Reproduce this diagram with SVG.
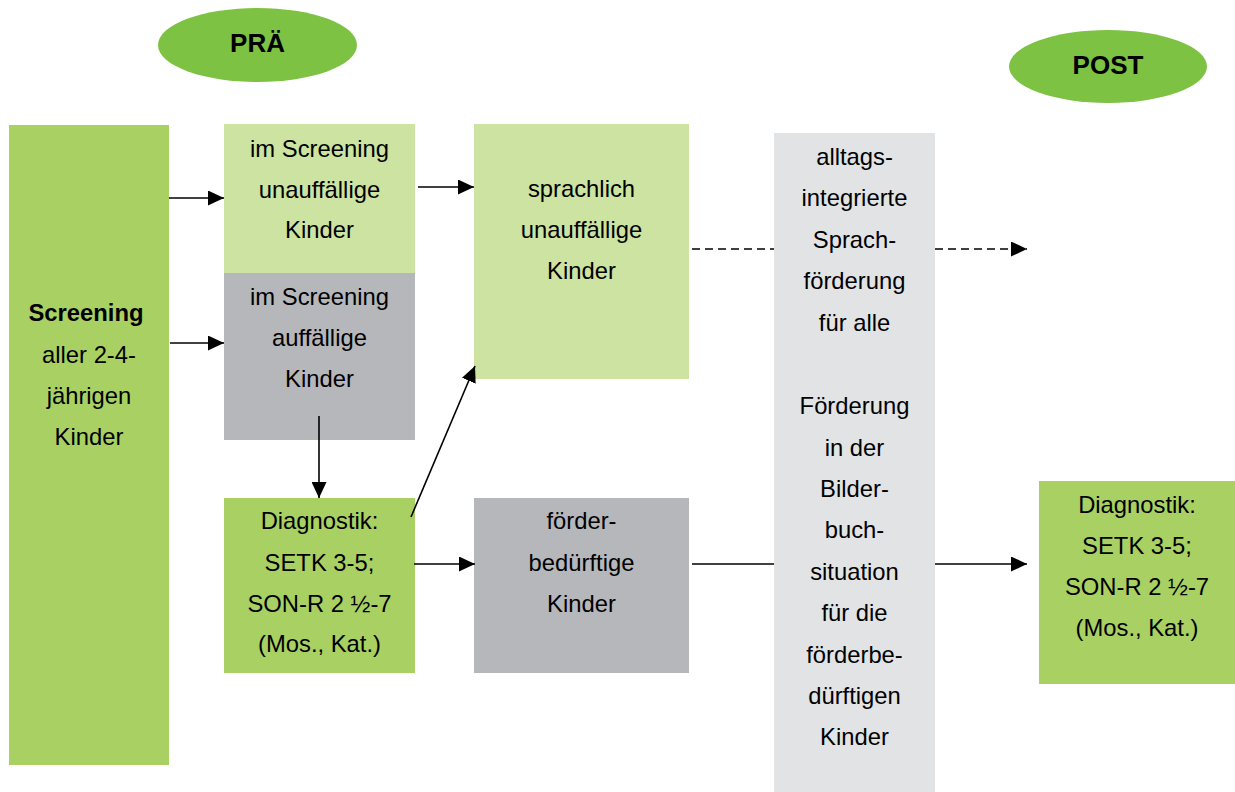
<svg xmlns="http://www.w3.org/2000/svg" width="1235" height="792" viewBox="0 0 1235 792">
  <style>
    .t { font-family: "Liberation Sans", Arial, sans-serif; font-size: 23.8px; fill: #000; text-anchor: middle; }
    .h { font-family: "Liberation Sans", Arial, sans-serif; font-size: 26px; font-weight: bold; fill: #000; text-anchor: middle; }
    .b { font-weight: bold; }
    .oval { fill: #7dc243; }
    .green { fill: #a9d063; }
    .light { fill: #cce3a2; }
    .grey { fill: #b6b7bb; }
    .pale { fill: #e2e3e5; }
    .edge { stroke: #000; stroke-width: 1.6; fill: none; }
    .arrow { marker-end: url(#head); }
    .dash { stroke-dasharray: 8 5; }
  </style>
  <defs>
    <marker id="head" markerUnits="userSpaceOnUse" markerWidth="16" markerHeight="15" refX="16" refY="7.5" orient="auto">
      <path d="M0,0 L16,7.5 L0,15 Z" fill="#000"/>
    </marker>
  </defs>

  <rect width="1235" height="792" fill="#fff"/>

  <g id="pre">
    <ellipse class="oval" cx="257.5" cy="45" rx="99.5" ry="37"/>
    <text class="h" x="257.5" y="52">PRÄ</text>
  </g>
  <g id="post">
    <ellipse class="oval" cx="1108" cy="66.5" rx="99" ry="36.5"/>
    <text class="h" x="1108" y="74">POST</text>
  </g>

  <g id="screening">
    <rect class="green" x="9" y="125" width="160" height="640"/>
    <text class="t" x="86" y="321"><tspan class="b">Screening</tspan></text>
    <text class="t" x="89" y="363">aller 2-4-</text>
    <text class="t" x="89" y="404">jährigen</text>
    <text class="t" x="89" y="445">Kinder</text>
  </g>

  <g id="unremarkable">
    <rect class="light" x="224" y="124" width="191" height="149"/>
    <text class="t" x="319.5" y="157">im Screening</text>
    <text class="t" x="319.5" y="198">unauffällige</text>
    <text class="t" x="319.5" y="238">Kinder</text>
  </g>

  <g id="remarkable">
    <rect class="grey" x="224" y="273" width="191" height="167"/>
    <text class="t" x="319.5" y="305">im Screening</text>
    <text class="t" x="319.5" y="346">auffällige</text>
    <text class="t" x="319.5" y="387">Kinder</text>
  </g>

  <g id="diagnostics-pre">
    <rect class="green" x="224" y="498" width="191" height="175"/>
    <text class="t" x="319.5" y="529">Diagnostik:</text>
    <text class="t" x="319.5" y="571">SETK 3-5;</text>
    <text class="t" x="319.5" y="612">SON-R 2 ½-7</text>
    <text class="t" x="319.5" y="652">(Mos., Kat.)</text>
  </g>

  <g id="language-typical">
    <rect class="light" x="474" y="124" width="215" height="255"/>
    <text class="t" x="581.5" y="197">sprachlich</text>
    <text class="t" x="581.5" y="238">unauffällige</text>
    <text class="t" x="581.5" y="279">Kinder</text>
  </g>

  <g id="needs-support">
    <rect class="grey" x="474" y="498" width="215" height="175"/>
    <text class="t" x="581.5" y="529">förder-</text>
    <text class="t" x="581.5" y="571">bedürftige</text>
    <text class="t" x="581.5" y="612">Kinder</text>
  </g>

  <g id="support">
    <rect class="pale" x="774" y="133" width="161" height="659"/>
    <text class="t" x="854.5" y="165">alltags-</text>
    <text class="t" x="854.5" y="206">integrierte</text>
    <text class="t" x="854.5" y="248">Sprach-</text>
    <text class="t" x="854.5" y="289">förderung</text>
    <text class="t" x="854.5" y="331">für alle</text>
    <text class="t" x="854.5" y="414">Förderung</text>
    <text class="t" x="854.5" y="456">in der</text>
    <text class="t" x="854.5" y="497">Bilder-</text>
    <text class="t" x="854.5" y="538">buch-</text>
    <text class="t" x="854.5" y="580">situation</text>
    <text class="t" x="854.5" y="621">für die</text>
    <text class="t" x="854.5" y="663">förderbe-</text>
    <text class="t" x="854.5" y="704">dürftigen</text>
    <text class="t" x="854.5" y="745">Kinder</text>
  </g>

  <g id="diagnostics-post">
    <rect class="green" x="1039" y="481" width="196" height="203"/>
    <text class="t" x="1137" y="513">Diagnostik:</text>
    <text class="t" x="1137" y="554">SETK 3-5;</text>
    <text class="t" x="1137" y="595">SON-R 2 ½-7</text>
    <text class="t" x="1137" y="636">(Mos., Kat.)</text>
  </g>

  <g id="connectors">
    <line class="edge arrow" x1="169" y1="198" x2="224" y2="198"/>
    <line class="edge arrow" x1="170" y1="343" x2="224" y2="343"/>
    <line class="edge arrow" x1="418" y1="187" x2="474" y2="187"/>
    <line class="edge arrow" x1="319" y1="416" x2="319" y2="498"/>
    <line class="edge arrow" x1="411" y1="517" x2="475" y2="366"/>
    <line class="edge arrow" x1="414" y1="564" x2="475" y2="564"/>
    <line class="edge" x1="692" y1="564" x2="774" y2="564"/>
    <line class="edge arrow" x1="935" y1="564" x2="1027" y2="564"/>
    <line class="edge dash" x1="692" y1="249" x2="774" y2="249"/>
    <line class="edge dash arrow" x1="935" y1="249" x2="1027" y2="249"/>
  </g>
</svg>
